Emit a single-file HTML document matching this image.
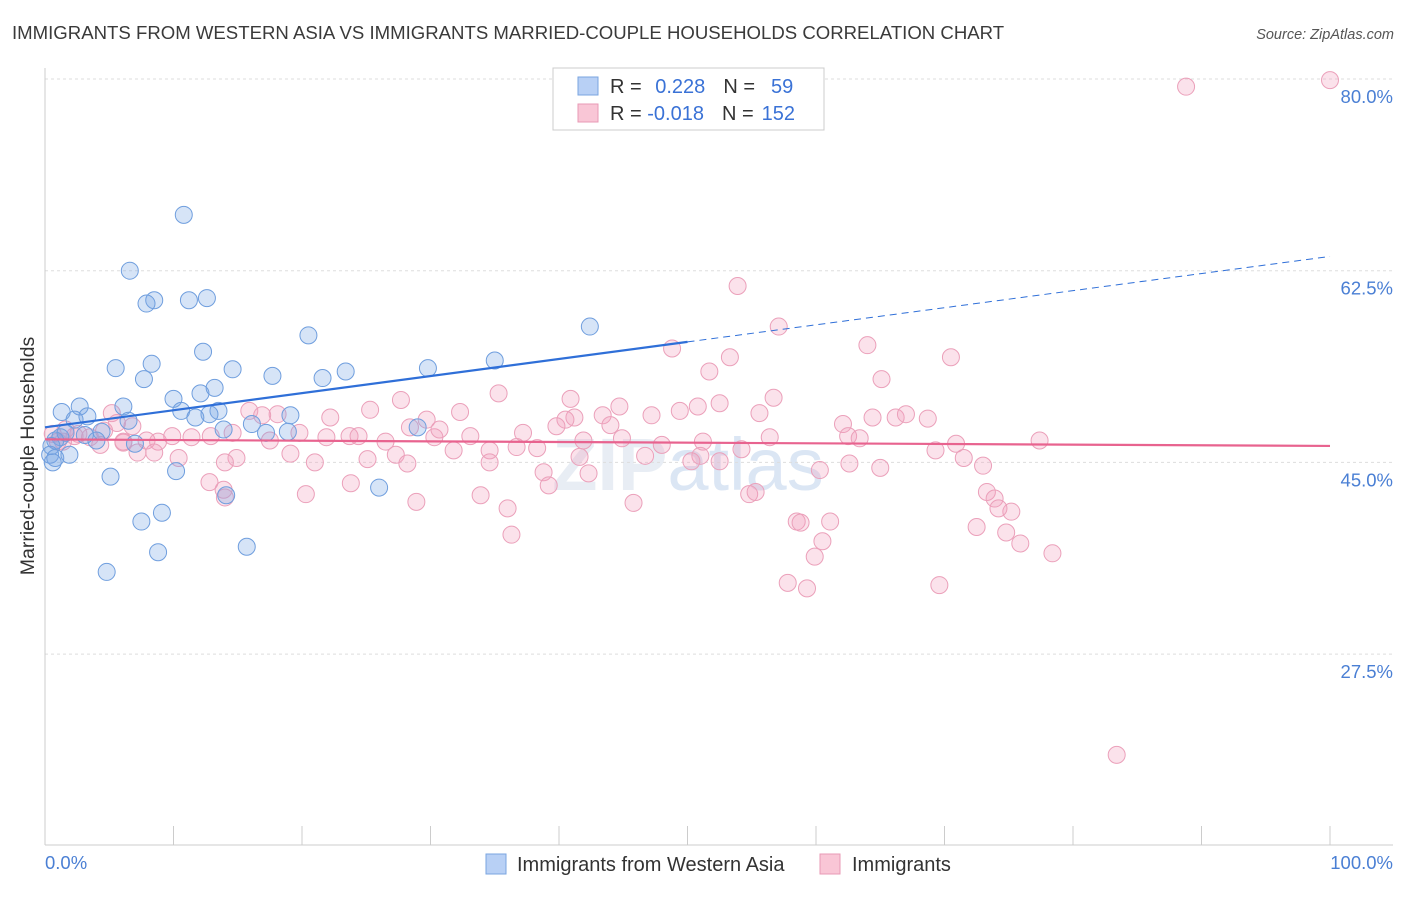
<!DOCTYPE html>
<html><head><meta charset="utf-8"><style>
body{margin:0;background:#fff;font-family:"Liberation Sans",sans-serif;}
svg text{font-family:"Liberation Sans",sans-serif;}
</style></head><body>
<svg id="chart" width="1406" height="892" viewBox="0 0 1406 892" xmlns="http://www.w3.org/2000/svg">
<text x="12" y="39" font-size="18.6" fill="#3a3a3a">IMMIGRANTS FROM WESTERN ASIA VS IMMIGRANTS MARRIED-COUPLE HOUSEHOLDS CORRELATION CHART</text>
<text x="1394" y="39" font-size="14.5" fill="#555" text-anchor="end" font-style="italic">Source: ZipAtlas.com</text>
<text x="688" y="490" font-size="74" fill="#dfe6f0" text-anchor="middle" font-weight="bold" opacity="0.7">ZIP<tspan fill="#cddcf0" font-weight="normal">atlas</tspan></text>
<g id="grid"></g>
<line x1="45" y1="68" x2="45" y2="845" stroke="#ccc"/>
<line x1="45" y1="845" x2="1393" y2="845" stroke="#ccc"/>
<g id="xticks"></g>
<text transform="translate(34,456) rotate(-90)" font-size="19.5" fill="#333" text-anchor="middle">Married-couple Households</text>
<text x="45" y="869" font-size="18.5" fill="#4a7fd4">0.0%</text>
<text x="1393" y="869" font-size="18.5" fill="#4a7fd4" text-anchor="end">100.0%</text>
<g id="pink"></g><g id="blue"></g><g id="trends"></g>
<g>
<rect x="553" y="68" width="271" height="62" fill="#fff" stroke="#ccc"/>
<rect x="578" y="77" width="20" height="18" fill="#b8d0f5" stroke="#7aa5e0"/>
<rect x="578" y="104" width="20" height="18" fill="#f9c6d6" stroke="#e89ab5"/>
<text x="610" y="93" font-size="20" fill="#333">R = <tspan fill="#3a72d6" dx="8">0.228</tspan><tspan fill="#333" dx="18">N =</tspan><tspan fill="#3a72d6" dx="16">59</tspan></text>
<text x="610" y="120" font-size="20" fill="#333">R = <tspan fill="#3a72d6">-0.018</tspan><tspan fill="#333" dx="18">N =</tspan><tspan fill="#3a72d6" dx="8">152</tspan></text>
</g>
<g>
<rect x="486" y="854" width="20" height="20" fill="#b8d0f5" stroke="#7aa5e0"/>
<text x="517" y="871" font-size="20" fill="#333">Immigrants from Western Asia</text>
<rect x="820" y="854" width="20" height="20" fill="#f9c6d6" stroke="#e89ab5"/>
<text x="852" y="871" font-size="20" fill="#333">Immigrants</text>
</g>
</svg>
<script>
const yTicks=[80,62.5,45,27.5];
const yTickLabels=["80.0%","62.5%","45.0%","27.5%"];
const xTickVals=[0,10,20,30,40,50,60,70,80,90,100];
const blueX=[10.8,6.6,8.5,7.9,11.2,12.6,20.5,42.4,12.3,8.3,5.5,7.7,14.6,17.7,21.6,23.4,29.8,35.0,10.0,12.1,13.2,6.1,2.7,1.3,2.3,3.3,10.6,13.5,12.8,19.1,11.7,6.5,13.9,16.1,17.2,18.9,29.0,4.4,4.0,3.1,1.2,0.8,0.5,0.4,0.8,1.9,7.0,10.2,5.1,14.1,26.0,7.5,9.1,8.8,15.7,4.8,0.6,1.6];
const blueY=[67.6,62.5,59.8,59.5,59.8,60.0,56.6,57.4,55.1,54.0,53.6,52.6,53.5,52.9,52.7,53.3,53.6,54.3,50.8,51.3,51.8,50.1,50.1,49.6,48.9,49.2,49.7,49.7,49.4,49.3,49.1,48.8,48.0,48.5,47.7,47.8,48.2,47.8,47.0,47.5,47.3,47.0,46.5,45.7,45.4,45.7,46.7,44.2,43.7,42.0,42.7,39.6,40.4,36.8,37.3,35.0,45.0,47.7];
const pinkX=[100,88.8,53.9,57.1,64.0,70.5,48.8,53.3,51.7,65.1,35.3,56.7,52.5,27.7,40.9,44.7,50.8,49.4,55.6,62.1,64.4,66.2,67.0,68.7,47.2,43.4,41.2,40.5,44.0,32.3,29.7,25.3,22.2,18.1,15.9,16.9,5.2,5.6,6.8,7.9,8.8,9.9,11.4,12.9,14.6,17.5,19.8,21.9,23.7,24.4,26.5,28.4,30.3,30.7,33.1,34.6,37.2,39.8,41.9,44.9,48.0,51.2,56.4,62.5,63.4,69.3,70.9,77.4,71.5,73.0,54.2,46.7,41.6,38.3,36.7,31.8,34.6,27.3,28.2,25.1,21.0,19.1,14.9,14.0,10.4,8.5,7.2,6.1,3.5,2.6,4.6,1.6,0.6,1.0,4.3,60.3,62.6,65.0,38.8,42.3,51.0,50.3,52.5,39.2,54.8,55.3,13.9,14.0,20.3,23.8,28.9,33.9,36.0,36.3,45.8,73.3,73.9,75.2,74.2,72.5,74.8,75.9,78.4,58.5,58.8,61.1,60.5,59.9,57.8,59.3,69.6,83.4,12.8,6.1,1.4,2.3];
const pinkY=[79.9,79.3,61.1,57.4,55.7,54.6,55.4,54.6,53.3,52.6,51.3,50.9,50.4,50.7,50.8,50.1,50.1,49.7,49.5,48.5,49.1,49.1,49.4,49.0,49.3,49.3,49.1,48.9,48.4,49.6,48.9,49.8,49.1,49.4,49.7,49.3,49.5,48.6,48.3,47.0,46.9,47.4,47.3,47.4,47.7,47.0,47.7,47.3,47.4,47.4,46.9,48.2,47.3,48.0,47.4,46.1,47.7,48.3,47.0,47.2,46.6,46.9,47.3,47.4,47.2,46.1,46.7,47.0,45.4,44.7,46.2,45.6,45.5,46.3,46.4,46.1,45.0,45.7,44.9,45.3,45.0,45.8,45.4,45.0,45.4,45.9,45.9,46.8,47.3,47.6,47.9,48.0,47.6,46.9,46.6,44.3,44.9,44.5,44.1,44.0,45.6,45.1,45.1,42.9,42.1,42.3,42.5,41.8,42.1,43.1,41.4,42.0,40.8,38.4,41.3,42.3,41.7,40.5,40.8,39.1,38.6,37.6,36.7,39.6,39.5,39.6,37.8,36.4,34.0,33.5,33.8,18.3,43.2,46.9,46.9,47.4];
const blueTrend=[48.2,0.156]; // intercept, slope
const blueSolidEnd=50;
const pinkTrend=[47.1,-0.006];

const NS="http://www.w3.org/2000/svg";
const X=v=>45+v*12.85;
const Y=v=>79+(80-v)*10.954;
function mk(tag,attrs,parent){const e=document.createElementNS(NS,tag);for(const k in attrs)e.setAttribute(k,attrs[k]);parent.appendChild(e);return e;}
const grid=document.getElementById('grid');
yTicks.forEach((t,i)=>{
  const l=mk('line',{x1:45,x2:1393,y1:Y(t),y2:Y(t),stroke:'#ddd','stroke-dasharray':'3,3'},grid);
  
  
  const tx=mk('text',{x:1393,y:Y(t)+24,'font-size':18.5,fill:'#4a7fd4','text-anchor':'end'},grid);
  tx.textContent=yTickLabels[i];
  
  
});
const xt=document.getElementById('xticks');
xTickVals.forEach(v=>{
  const l=mk('line',{x1:X(v),x2:X(v),y1:826,y2:845,stroke:'#ccc'},xt);
  
  
});
const pg=document.getElementById('pink');
pinkX.forEach((x,i)=>{
  const c=mk('circle',{cx:X(x),cy:Y(pinkY[i]),r:8.5,fill:'rgba(243,160,190,0.3)',stroke:'#eba0ba','stroke-width':1},pg);
  
  
});
const bg=document.getElementById('blue');
blueX.forEach((x,i)=>{
  const c=mk('circle',{cx:X(x),cy:Y(blueY[i]),r:8.5,fill:'rgba(120,165,230,0.3)',stroke:'#6f9ede','stroke-width':1},bg);
  
  
});
const tg=document.getElementById('trends');
const bf=v=>blueTrend[0]+blueTrend[1]*v, pf=v=>pinkTrend[0]+pinkTrend[1]*v;
let t1=mk('line',{x1:X(0),y1:Y(bf(0)),x2:X(blueSolidEnd),y2:Y(bf(blueSolidEnd)),stroke:'#2f6fd8','stroke-width':2.2},tg);


let t2=mk('line',{x1:X(blueSolidEnd),y1:Y(bf(blueSolidEnd)),x2:X(100),y2:Y(bf(100)),stroke:'#2f6fd8','stroke-width':1,'stroke-dasharray':'7,5'},tg);


let t3=mk('line',{x1:X(0),y1:Y(pf(0)),x2:X(100),y2:Y(pf(100)),stroke:'#e8638f','stroke-width':2.2},tg);


</script>
</body></html>
